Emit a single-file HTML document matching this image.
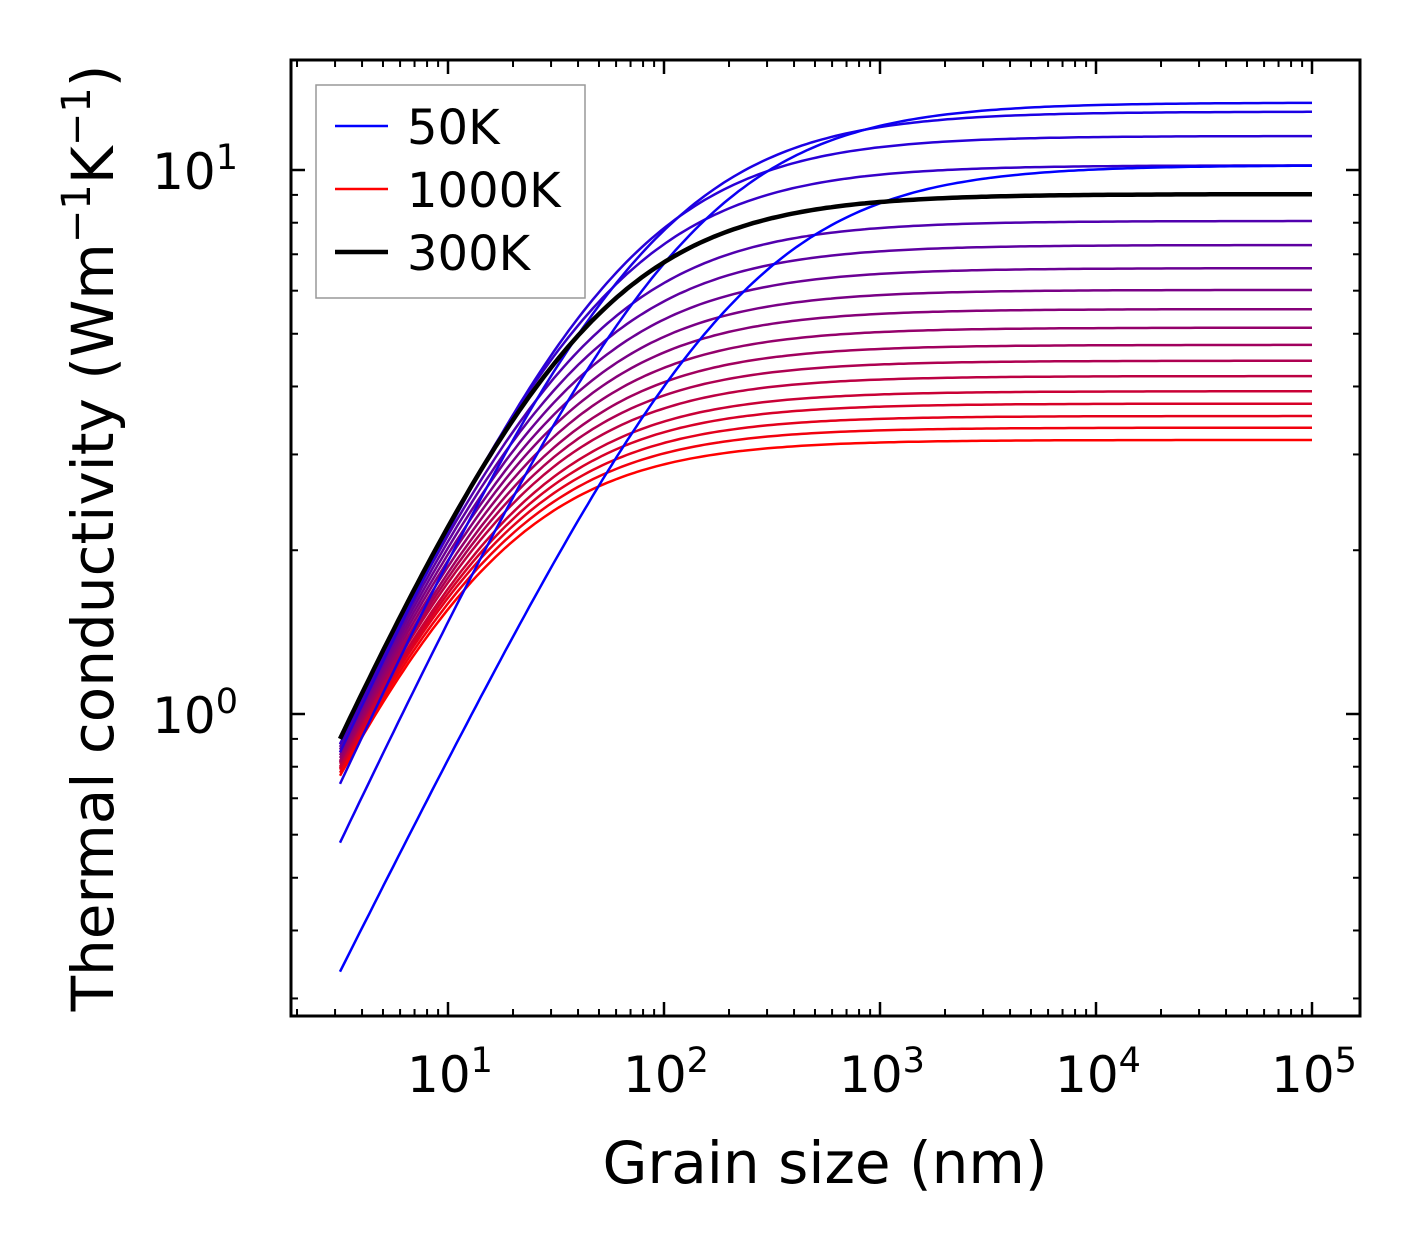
<!DOCTYPE html>
<html><head><meta charset="utf-8"><style>
body{margin:0;background:#fff}
svg{display:block;font-family:"DejaVu Sans","Liberation Sans",sans-serif}
</style></head><body>
<svg id="c" width="1421" height="1254" viewBox="0 0 1421 1254">
<rect width="1421" height="1254" fill="#fff"/>
<g id="curves"></g>
<g id="ticks"></g>
<rect x="291" y="60" width="1069" height="956" fill="none" stroke="#000" stroke-width="3"/>
<g>
<rect x="316" y="85" width="269" height="213" fill="#fff" fill-opacity="0.8" stroke="#999" stroke-width="1.5"/>
<line x1="335" y1="126" x2="388" y2="126" stroke="#0000ff" stroke-width="2.5"/>
<text x="407" y="144" font-size="48">50K</text>
<line x1="335" y1="189" x2="388" y2="189" stroke="#ff0000" stroke-width="2.5"/>
<text x="407" y="207" font-size="48">1000K</text>
<line x1="335" y1="252" x2="388" y2="252" stroke="#000" stroke-width="4.5"/>
<text x="407" y="270" font-size="48">300K</text>
</g>
<text x="825" y="1183" font-size="58" text-anchor="middle">Grain size (nm)</text>
<text transform="translate(113,538) rotate(-90)" font-size="58" text-anchor="middle">Thermal conductivity (Wm<tspan baseline-shift="super" font-size="40">−1</tspan>K<tspan baseline-shift="super" font-size="40">−1</tspan>)</text>
</svg>
<script>
const temps=[50,100,150,200,250,300,350,400,450,500,550,600,650,700,750,800,850,900,950,1000];
const kInf=[10.2,13.3,12.8,11.55,10.2,9.03,8.06,7.28,6.60,6.02,5.55,5.13,4.77,4.46,4.18,3.92,3.72,3.53,3.36,3.19];
const kStart=[0.336,0.58,0.744,0.85,0.88,0.90,0.88,0.87,0.86,0.85,0.84,0.83,0.82,0.815,0.81,0.80,0.795,0.79,0.78,0.77];
const slopeExp=[0.8,0.85,0.88,0.9,0.9,0.9,0.9,0.9,0.9,0.9,0.9,0.9,0.9,0.9,0.9,0.9,0.9,0.9,0.9,0.9];
const xTickExp=[1,2,3,4,5];
const yTickExp=[0,1];
const L0=Math.pow(10,0.5);
const NS="http://www.w3.org/2000/svg";
const X=v=>448+216*(Math.log10(v)-1);
const Y=v=>714-544*Math.log10(v);
const cg=document.getElementById('curves');
function curve(i){
  const a=slopeExp[i];
  const l=L0*(Math.pow(kInf[i]/kStart[i],1/a)-1);
  let d='';
  for(let j=0;j<=200;j++){
    const L=Math.pow(10,0.5+4.5*j/200);
    const k=kInf[i]/Math.pow(1+l/L,a);
    d+=(j?'L':'M')+X(L).toFixed(1)+' '+Y(k).toFixed(1);
  }
  return d;
}
const order=temps.map((t,i)=>i).filter(i=>temps[i]!==300);
order.reverse();
order.forEach(i=>{
  const t=(temps[i]-50)/950;
  const p=document.createElementNS(NS,'path');
  p.setAttribute('d',curve(i));
  p.setAttribute('fill','none');
  p.setAttribute('stroke','rgb('+Math.round(255*t)+',0,'+Math.round(255*(1-t))+')');
  p.setAttribute('stroke-width','2.5');
  
  
  cg.appendChild(p);
});
const bi=temps.indexOf(300);
const bp=document.createElementNS(NS,'path');
bp.setAttribute('d',curve(bi));
bp.setAttribute('fill','none');bp.setAttribute('stroke','#000');bp.setAttribute('stroke-width','4.5');


cg.appendChild(bp);
const tg=document.getElementById('ticks');
function ln(x1,y1,x2,y2,w){
  const e=document.createElementNS(NS,'line');
  e.setAttribute('x1',x1);e.setAttribute('y1',y1);e.setAttribute('x2',x2);e.setAttribute('y2',y2);
  e.setAttribute('stroke','#000');e.setAttribute('stroke-width',w);
  
  
  tg.appendChild(e);
}
function lbl(x,y,exp,anchor,name){
  const e=document.createElementNS(NS,'text');
  e.setAttribute('x',x);e.setAttribute('y',y);e.setAttribute('font-size','50');e.setAttribute('text-anchor',anchor);
  e.innerHTML='10<tspan baseline-shift="super" font-size="35">'+exp+'</tspan>';
  
  
  tg.appendChild(e);
}
for(let e=0;e<=5;e++)for(let m=1;m<10;m++){
  const v=m*Math.pow(10,e),x=X(v);
  if(x<292||x>1359)continue;
  const len=m===1?14:7,w=m===1?2.5:2;
  ln(x,1016,x,1016-len,w);ln(x,60,x,60+len,w);
}
xTickExp.forEach(e=>lbl(X(Math.pow(10,e))+2,1092,e,'middle','x-tick-label-1e'+e));
for(let e=-1;e<=1;e++)for(let m=1;m<10;m++){
  const v=m*Math.pow(10,e),y=Y(v);
  if(y<61||y>1015)continue;
  const len=m===1?14:7,w=m===1?2.5:2;
  ln(291,y,291+len,y,w);ln(1360,y,1360-len,y,w);
}
yTickExp.forEach(e=>lbl(238,Y(Math.pow(10,e))+19,e,'end','y-tick-label-1e'+e));
</script>
</body></html>
